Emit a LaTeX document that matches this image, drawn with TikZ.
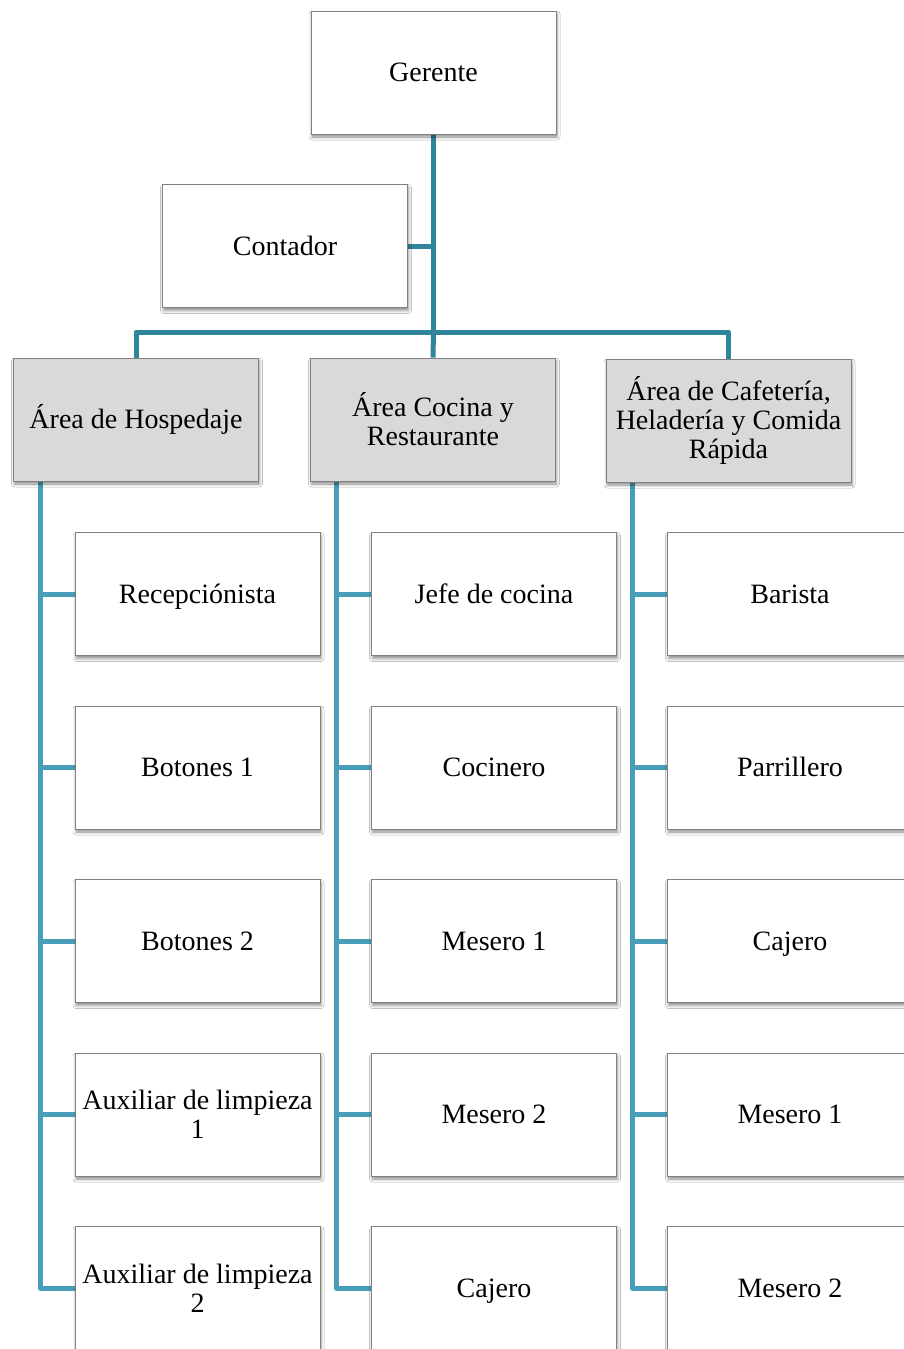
\documentclass[tikz,border=0pt]{standalone}
\usepackage{fontspec}
\setmainfont{Liberation Serif}
\usetikzlibrary{shadows.blur,backgrounds}
\definecolor{topline}{RGB}{49,133,155}
\definecolor{subline}{RGB}{72,158,184}
\definecolor{boxgray}{RGB}{217,217,217}
\definecolor{edgegray}{RGB}{128,128,128}
\begin{document}
\begin{tikzpicture}[x=1pt,y=-1pt,
  box/.style={draw=edgegray, line width=0.8pt, fill=white, minimum width=245pt, minimum height=123pt,
    inner sep=0pt, align=center, font=\fontsize{28}{29}\selectfont,
    blur shadow={shadow xshift=1pt, shadow yshift=-3pt, shadow blur radius=3pt, shadow opacity=45}},
  onebox/.style={box, text height=26pt, text depth=8pt},
  areabox/.style={box, fill=boxgray},
  oneareabox/.style={onebox, fill=boxgray},
  conn/.style={line width=5pt, line join=round, line cap=butt},
  topconn/.style={conn, draw=topline},
  subconn/.style={conn, draw=subline}]
\useasboundingbox (0,0) rectangle (904,1349);
\clip (0,0) rectangle (904,1349);

\coordinate (bus) at (433.5,332);
\coordinate (v1) at (40,481);
\coordinate (v2) at (336,481);
\coordinate (v3) at (632,481);

% nodes
\node[onebox] (ger) at (433.5,72.5) {Gerente};
\node[onebox] (cont) at (285,246) {Contador};
\node[oneareabox] (hosp) at (136,419.5) {Área de Hospedaje};
\node[areabox] (coc) at (433,419.5) {Área Cocina y\\Restaurante};
\node[areabox] (caf) at (728.5,420.5) {Área de Cafetería,\\Heladería y Comida\\Rápida};

\node[onebox] (h1) at (197.5,594) {Recepciónista};
\node[onebox] (h2) at (197.5,767.5) {Botones 1};
\node[onebox] (h3) at (197.5,941) {Botones 2};
\node[box] (h4) at (197.5,1114.5) {Auxiliar de limpieza\\1};
\node[box] (h5) at (197.5,1288) {Auxiliar de limpieza\\2};

\node[onebox] (c1) at (494,594) {Jefe de cocina};
\node[onebox] (c2) at (494,767.5) {Cocinero};
\node[onebox] (c3) at (494,941) {Mesero 1};
\node[onebox] (c4) at (494,1114.5) {Mesero 2};
\node[onebox] (c5) at (494,1288) {Cajero};

\node[onebox] (f1) at (790,594) {Barista};
\node[onebox] (f2) at (790,767.5) {Parrillero};
\node[onebox] (f3) at (790,941) {Cajero};
\node[onebox] (f4) at (790,1114.5) {Mesero 1};
\node[onebox] (f5) at (790,1288) {Mesero 2};

\begin{scope}[on background layer]
\fill[white] (0,0) rectangle (904,1349);
\draw[topconn] (ger.south) -- (bus);
\draw[topconn] (cont.east) -- (cont.east -| ger.south);
\draw[topconn] (hosp.north) |- (bus) -| (caf.north);
\draw[topconn] (bus) -- (coc.north);
\foreach \n in {1,...,5} {
  \draw[subconn] (v1) |- (h\n.west);
  \draw[subconn] (v2) |- (c\n.west);
  \draw[subconn] (v3) |- (f\n.west);
}
\end{scope}
\end{tikzpicture}
\end{document}
